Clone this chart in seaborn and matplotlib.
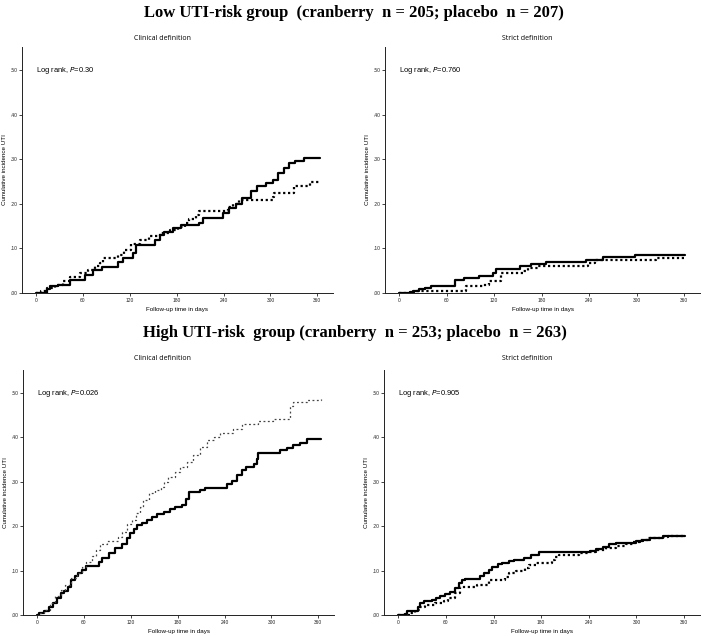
import numpy as np
import pandas as pd
import matplotlib
matplotlib.use("Agg")
import matplotlib.pyplot as plt
import seaborn as sns

# low risk, clinical definition (day, cumulative incidence)
low_clin_cran_t = [0, 14, 18, 28, 43, 62, 73, 84, 105, 111, 124, 128, 152, 158, 164, 175, 186, 209, 213, 239, 247, 256, 264, 275, 283, 294, 303, 309, 317, 324, 332, 343, 363]
low_clin_cran_y = [0, 0.008, 0.015, 0.019, 0.030, 0.040, 0.052, 0.058, 0.069, 0.078, 0.090, 0.108, 0.119, 0.130, 0.138, 0.146, 0.153, 0.158, 0.168, 0.179, 0.190, 0.200, 0.213, 0.228, 0.239, 0.246, 0.254, 0.269, 0.280, 0.291, 0.297, 0.304, 0.304]
low_clin_plac_t = [0, 6, 14, 24, 35, 43, 56, 67, 75, 82, 86, 105, 113, 122, 133, 145, 158, 171, 181, 190, 196, 205, 209, 245, 252, 260, 303, 305, 330, 351, 363]
low_clin_plac_y = [0, 0.004, 0.011, 0.019, 0.026, 0.037, 0.045, 0.052, 0.060, 0.067, 0.078, 0.086, 0.096, 0.110, 0.119, 0.127, 0.134, 0.142, 0.149, 0.158, 0.166, 0.175, 0.185, 0.194, 0.200, 0.209, 0.216, 0.224, 0.239, 0.250, 0.250]

# low risk, strict definition
low_str_cran_t = [0, 13, 19, 25, 32, 40, 71, 82, 101, 118, 122, 152, 167, 186, 236, 258, 298, 361]
low_str_cran_y = [0, 0.002, 0.004, 0.009, 0.011, 0.015, 0.030, 0.034, 0.039, 0.046, 0.054, 0.060, 0.065, 0.070, 0.075, 0.080, 0.086, 0.086]
low_str_plac_t = [0, 17, 84, 106, 114, 129, 156, 163, 175, 239, 247, 325, 361]
low_str_plac_y = [0, 0.005, 0.015, 0.019, 0.028, 0.045, 0.050, 0.056, 0.060, 0.067, 0.073, 0.078, 0.078]

# high risk, clinical definition
high_clin_cran_t = [0, 3, 9, 15, 21, 26, 30, 34, 40, 43, 49, 53, 58, 62, 79, 83, 92, 100, 109, 115, 119, 124, 128, 134, 141, 147, 153, 162, 170, 177, 185, 190, 194, 209, 215, 243, 249, 256, 262, 268, 277, 281, 283, 311, 320, 328, 337, 345, 363]
high_clin_cran_y = [0, 0.004, 0.010, 0.019, 0.027, 0.038, 0.049, 0.053, 0.064, 0.079, 0.087, 0.094, 0.102, 0.111, 0.120, 0.128, 0.139, 0.150, 0.161, 0.173, 0.184, 0.193, 0.203, 0.208, 0.214, 0.221, 0.227, 0.232, 0.238, 0.244, 0.247, 0.262, 0.277, 0.281, 0.287, 0.296, 0.303, 0.315, 0.326, 0.333, 0.341, 0.352, 0.365, 0.371, 0.377, 0.382, 0.387, 0.396, 0.396]
high_clin_plac_t = [0, 4, 9, 17, 23, 30, 36, 43, 51, 58, 62, 70, 75, 81, 89, 104, 109, 115, 121, 126, 132, 136, 143, 151, 158, 162, 168, 177, 183, 192, 200, 209, 217, 226, 234, 251, 262, 283, 302, 324, 328, 345, 363]
high_clin_plac_y = [0, 0.004, 0.012, 0.027, 0.042, 0.057, 0.068, 0.083, 0.094, 0.109, 0.120, 0.132, 0.146, 0.161, 0.166, 0.176, 0.188, 0.206, 0.214, 0.229, 0.244, 0.259, 0.275, 0.281, 0.288, 0.300, 0.311, 0.322, 0.333, 0.345, 0.360, 0.378, 0.395, 0.402, 0.410, 0.420, 0.430, 0.438, 0.442, 0.472, 0.479, 0.484, 0.487]

# high risk, strict definition
high_str_cran_t = [0, 8, 11, 25, 27, 32, 42, 47, 53, 59, 65, 72, 76, 80, 84, 103, 108, 114, 118, 125, 131, 139, 146, 158, 167, 177, 241, 249, 258, 266, 274, 300, 308, 317, 333, 361]
high_str_cran_y = [0, 0.002, 0.008, 0.019, 0.027, 0.031, 0.034, 0.038, 0.042, 0.048, 0.051, 0.061, 0.072, 0.078, 0.081, 0.087, 0.094, 0.102, 0.109, 0.115, 0.118, 0.121, 0.124, 0.128, 0.135, 0.141, 0.145, 0.148, 0.154, 0.160, 0.163, 0.167, 0.170, 0.174, 0.178, 0.178]
high_str_plac_t = [0, 15, 21, 27, 34, 46, 57, 63, 72, 78, 99, 114, 135, 139, 148, 160, 165, 173, 194, 198, 203, 228, 241, 249, 262, 274, 287, 295, 304, 314, 329, 340, 361]
high_str_plac_y = [0, 0.004, 0.012, 0.019, 0.023, 0.027, 0.031, 0.038, 0.049, 0.064, 0.068, 0.078, 0.085, 0.094, 0.099, 0.105, 0.113, 0.117, 0.123, 0.130, 0.135, 0.139, 0.143, 0.146, 0.150, 0.155, 0.160, 0.165, 0.170, 0.174, 0.176, 0.178, 0.178]

p_values = ["0.30", "0.760", "0.026", "0.905"]
subtitles = ["Clinical definition", "Strict definition"]
group_titles = ["Low UTI-risk group  (cranberry  n = 205; placebo  n = 207)",
                "High UTI-risk  group (cranberry  n = 253; placebo  n = 263)"]
x_ticks = [0, 60, 120, 180, 240, 300, 360]
y_ticks = [0, 0.1, 0.2, 0.3, 0.4, 0.5]
y_tick_labels = [".00", ".10", ".20", ".30", ".40", ".50"]

sns.set_style("white")
plt.rcParams['font.family'] = ['Liberation Sans', 'DejaVu Sans']
plt.rcParams['text.color'] = 'black'
plt.rcParams['axes.labelcolor'] = 'black'

W, H = 701, 636
fig = plt.figure(figsize=(W / 100, H / 100), dpi=100)

# axes boxes in pixels: left, top, right, bottom
boxes = [(22, 47, 333, 293), (385, 47, 700, 293),
         (23, 370, 334, 615), (384, 370, 700, 615)]

panels = [
    (low_clin_cran_t, low_clin_cran_y, low_clin_plac_t, low_clin_plac_y),
    (low_str_cran_t, low_str_cran_y, low_str_plac_t, low_str_plac_y),
    (high_clin_cran_t, high_clin_cran_y, high_clin_plac_t, high_clin_plac_y),
    (high_str_cran_t, high_str_cran_y, high_str_plac_t, high_str_plac_y),
]

for i, (box, data) in enumerate(zip(boxes, panels)):
    l, t, r, b = box
    ax = fig.add_axes([l / W, 1 - b / H, (r - l) / W, (b - t) / H])
    ct, cy, pt, py = data
    df_c = pd.DataFrame({"day": ct, "inc": cy})
    df_p = pd.DataFrame({"day": pt, "inc": py})
    sns.lineplot(data=df_c, x="day", y="inc", ax=ax, color="black", lw=1.6,
                 estimator=None, drawstyle="steps-post")
    if i == 2:
        # thinner grey dotted line in this panel
        sns.lineplot(data=df_p, x="day", y="inc", ax=ax, color="#444444", lw=0.9,
                     estimator=None, drawstyle="steps-post", linestyle=(0, (1.5, 2)))
    else:
        sns.lineplot(data=df_p, x="day", y="inc", ax=ax, color="black", lw=1.6,
                     estimator=None, drawstyle="steps-post", linestyle=(0, (1, 1.2)))
    ax.set_xlim(-18, 380)
    ax.set_ylim(0, 0.552)
    ax.set_xticks(x_ticks)
    ax.set_xticklabels([str(v) for v in x_ticks])
    ax.set_yticks(y_ticks)
    ax.set_yticklabels(y_tick_labels)
    ax.tick_params(axis="both", labelsize=3.5, length=2.5, width=0.6, pad=1,
                   direction="out", left=True, bottom=True, colors="#222222")
    for s in ["top", "right"]:
        ax.spines[s].set_visible(False)
    for s in ["left", "bottom"]:
        ax.spines[s].set_linewidth(0.7)
        ax.spines[s].set_color("#222222")
    ax.set_xlabel("Follow-up time in days", fontsize=4.5, labelpad=3)
    ax.set_ylabel("Cumulative incidence UTI", fontsize=4.5, labelpad=2)
    ax.text(0, 0.5, "Log rank, $\\mathit{P}$=" + p_values[i], fontsize=5.4,
            va="center", ha="left")

# subtitles
for y in [38, 359]:
    fig.text(162 / W, 1 - y / H, subtitles[0], fontsize=5, ha="center", va="center",
             family=["Open Sans", "DejaVu Sans"])
    fig.text(527 / W, 1 - y / H, subtitles[1], fontsize=5, ha="center", va="center",
             family=["Open Sans", "DejaVu Sans"])

fig.text(354 / W, 1 - 13 / H, group_titles[0], fontsize=12, fontweight="bold",
         ha="center", va="center", family=["Liberation Serif", "DejaVu Serif"])
fig.text(355 / W, 1 - 333 / H, group_titles[1], fontsize=12, fontweight="bold",
         ha="center", va="center", family=["Liberation Serif", "DejaVu Serif"])

fig.savefig("out.png", dpi=100)
